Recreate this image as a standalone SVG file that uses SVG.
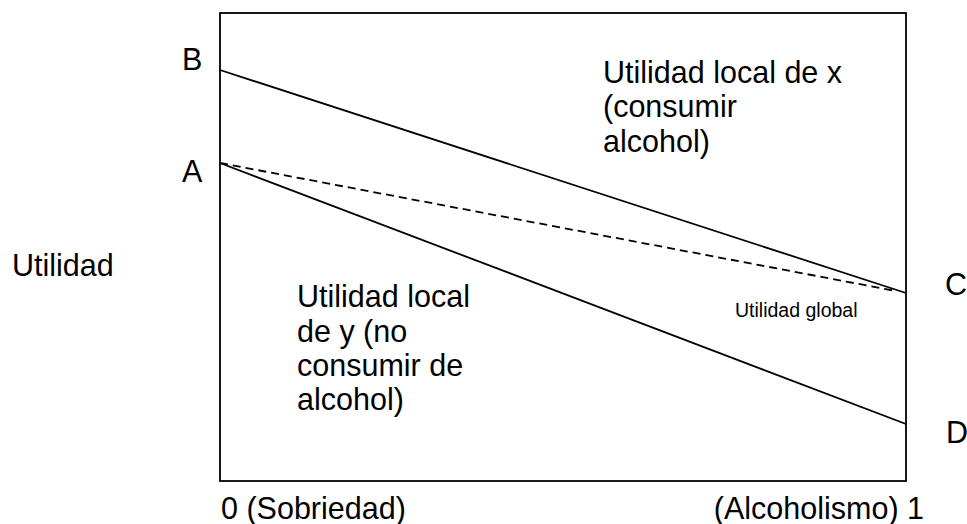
<svg xmlns="http://www.w3.org/2000/svg" width="967" height="524" viewBox="0 0 967 524">
<style>
text{font-family:"Liberation Sans",Arial,sans-serif;fill:#000}
.big{font-size:30.5px}
.small{font-size:19.5px}
.ln{stroke:#000;stroke-width:1.8;fill:none}
.dash{stroke-dasharray:8 5}
</style>
<rect x="0" y="0" width="967" height="524" fill="#fff"/>
<g id="frame"><rect class="ln" x="220" y="13" width="686" height="468"/></g>
<g id="connectors">
<line class="ln" x1="220" y1="70" x2="906" y2="293"/>
<line class="ln" x1="220" y1="163" x2="906" y2="424"/>
<line class="ln dash" x1="220" y1="163" x2="896" y2="291"/>
</g>
<g id="labels">
<text class="big" x="182" y="70">B</text>
<text class="big" x="182" y="182">A</text>
<text class="big" x="945" y="295">C</text>
<text class="big" x="946" y="443">D</text>
<text class="big" x="12" y="276">Utilidad</text>
<text class="big" x="221" y="519">0 (Sobriedad)</text>
<text class="big" x="924" y="519" text-anchor="end">(Alcoholismo) 1</text>
</g>
<g id="node-x">
<text class="big" x="603" y="83">Utilidad local de x</text>
<text class="big" x="603" y="117">(consumir</text>
<text class="big" x="603" y="152">alcohol)</text>
</g>
<g id="node-y">
<text class="big" x="297" y="307">Utilidad local</text>
<text class="big" x="297" y="342">de y (no</text>
<text class="big" x="297" y="376">consumir de</text>
<text class="big" x="297" y="410">alcohol)</text>
</g>
<g id="node-global">
<text class="small" x="735" y="317">Utilidad global</text>
</g>
</svg>
